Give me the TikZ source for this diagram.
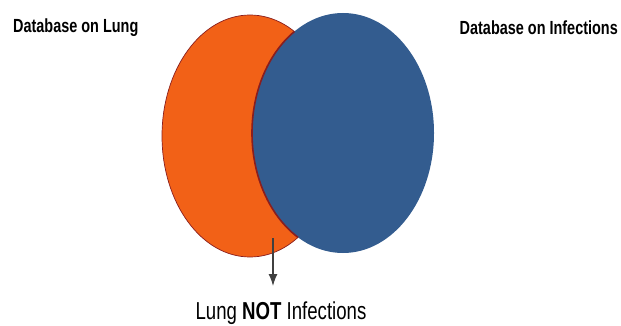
\documentclass[tikz,border=0pt]{standalone}
\usepackage{fontspec}
\newfontfamily\narrowsans[FakeStretch=0.76]{Liberation Sans}
\usetikzlibrary{shapes.geometric, arrows.meta}
\definecolor{lungorange}{HTML}{F26117}
\definecolor{infblue}{HTML}{335C8F}
\definecolor{rimred}{HTML}{8A1E1E}
\definecolor{arrgray}{HTML}{404040}
\begin{document}
\begin{tikzpicture}[
	x=1pt, y=-1pt,
	setbox/.style={
		ellipse, inner sep=0pt, minimum height=240pt
	},
	dblabel/.style={
		inner sep=0pt, font=\narrowsans\bfseries\fontsize{19}{22}\selectfont
	},
	result/.style={
		inner sep=0pt, font=\narrowsans\fontsize{24.5}{28}\selectfont
	},
	arr/.style={-{Latex[length=12pt, width=9pt]}, arrgray, line width=1.3pt}
]
\useasboundingbox (0,0) rectangle (621,326);

% Sets
% Lung centre (250,136), Infections centre (343,133)
\node[setbox, minimum width=176pt, minimum height=242pt, fill=lungorange, draw=rimred, line width=0.7pt] (lung) at (250,136) {};
\node[setbox, minimum width=182pt, fill=infblue] (inf) at (343,133) {};

% dark rim of the blue set where it lies on the orange one
\begin{scope}
	\clip (250,136) ellipse [x radius=88pt, y radius=121pt];
	\draw[rimred, line width=1.6pt] (343,133) ellipse [x radius=91pt, y radius=120pt];
\end{scope}

% Labels
\node[dblabel, anchor=west] (lunglbl) at (13,28) {Database on Lung};
\node[dblabel, anchor=east] (inflbl) at (618,28) {Database on Infections};
\node[result] (notlbl) at (281,313) {Lung \textbf{NOT} Infections};

% Arrow out of the orange-only part
\coordinate (arrtop) at (273,238);
\coordinate (arrtip) at (273,286);
\draw[arr] (arrtop) -- (arrtip);

\end{tikzpicture}
\end{document}
